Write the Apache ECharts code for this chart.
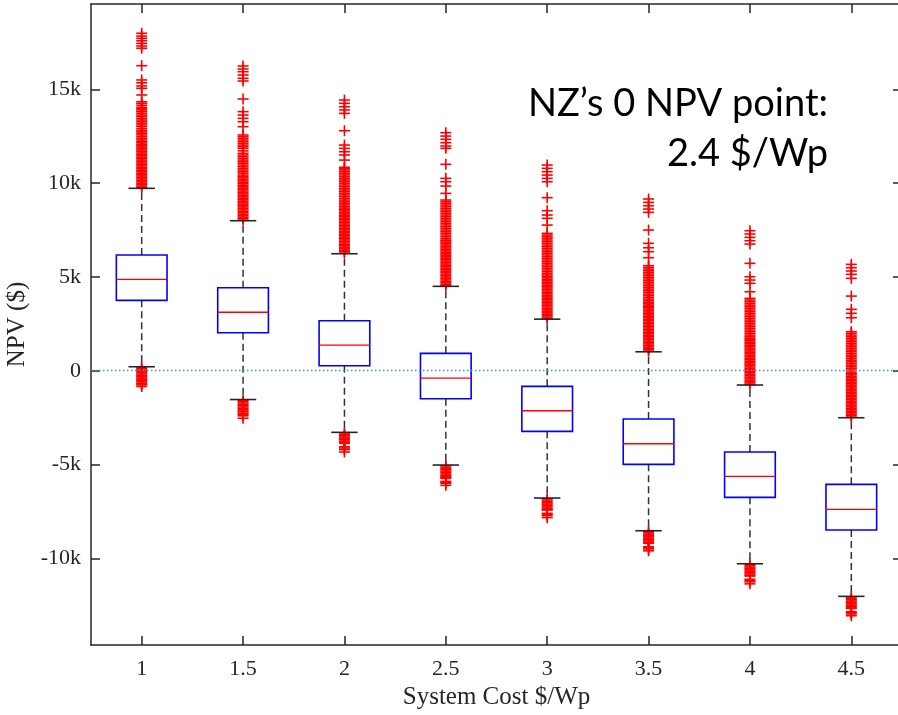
<!DOCTYPE html>
<html><head><meta charset="utf-8">
<script src="https://cdn.jsdelivr.net/npm/echarts@6/dist/echarts.min.js"></script>
<style>html,body{margin:0;padding:0;background:#fff}#chart{width:898px;height:715px}</style>
</head><body><div id="chart"></div>
<script>
// System cost categories ($/Wp)
const categories = ['1', '1.5', '2', '2.5', '3', '3.5', '4', '4.5'];
// Box statistics (NPV, $)
const whiskerLow  = [213, -1535, -3284, -5027, -6786, -8530, -10289, -12027];
const q1          = [3753, 2026, 267, -1493, -3231, -4990, -6749, -8492];
const median      = [4873, 3119, 1370, -389, -2132, -3892, -5630, -7389];
const q3          = [6168, 4425, 2666, 928, -832, -2575, -4334, -6056];
const whiskerHigh = [9724, 7997, 6237, 4499, 2750, 1010, -762, -2505];
// Y tick values and labels
const yTickValues = [-10000, -5000, 0, 5000, 10000, 15000];
const yTickLabels = ['-10k', '-5k', '0', '5k', '10k', '15k'];

// Outliers per category (NPV, $)
const outliers1 = [9760, 9840, 9915, 9990, 10070, 10150, 10225, 10300, 10380, 10455, 10530, 10610, 10690, 10765, 10840, 10920, 10995, 11070, 11150, 11230, 11305, 11380, 11460, 11535, 11610, 11690, 11765, 11840, 11920, 11995, 12070, 12150, 12210,
  12300, 12390, 12480, 12570, 12660, 12730, 12800, 12900, 13010, 13100, 13190, 13280, 13365, 13450, 13545, 13630, 13720, 13810, 13900, 13970, 14040, 14150, 14255, 14340,
  14700, 15055, 15180, 15350, 15500, 16260,
  17190, 17310, 17450, 17590, 17720, 17840, 17990,
  180, 110, 40, -30, -100, -175, -245, -320, -390, -460, -530, -590, -670, -710, -750, -840];
const outliers2 = [8030, 8110, 8185, 8260, 8340, 8420, 8495, 8570, 8650, 8730, 8805, 8880, 8960, 9040, 9115, 9190, 9270, 9350, 9425, 9500, 9580, 9660, 9735, 9810, 9890, 9970, 10045, 10120, 10200, 10280, 10355, 10430,
  10525, 10610, 10700, 10790, 10875, 10965, 11055, 11140, 11230, 11320, 11410, 11500, 11590, 11720, 11855, 11940, 12030, 12120, 12210, 12300, 12390, 12480, 12565,
  13010, 13275, 13455, 13630, 13810, 14485,
  15445, 15590, 15765, 15940, 16085, 16245,
  -1570, -1640, -1715, -1790, -1860, -1930, -2005, -2080, -2150, -2190, -2270, -2330, -2400, -2530];
const outliers3 = [6270, 6350, 6425, 6500, 6580, 6660, 6735, 6810, 6890, 6970, 7045, 7120, 7200, 7280, 7355, 7430, 7510, 7590, 7665, 7740, 7820, 7900, 7975, 8050, 8130, 8210, 8285, 8360, 8440, 8520, 8595, 8670, 8745,
  8835, 8925, 9010, 9100, 9190, 9280, 9370, 9455, 9545, 9635, 9720, 9810, 9900, 9990, 10080, 10165, 10255, 10345, 10435, 10525, 10610, 10700, 10780, 10844,
  11230, 11500, 11675, 11855, 12030, 12795,
  13720, 13900, 14075, 14255, 14430,
  -3310, -3385, -3460, -3530, -3600, -3675, -3750, -3820, -3870, -4050, -4120, -4200, -4330];
const outliers4 = [4530, 4610, 4685, 4760, 4840, 4920, 4995, 5070, 5150, 5230, 5305, 5380, 5460, 5540, 5615, 5690, 5770, 5850, 5925, 6000, 6080, 6160, 6235, 6310, 6390, 6470, 6545, 6620, 6700, 6780, 6855, 6930, 6967,
  7055, 7145, 7235, 7325, 7410, 7500, 7590, 7680, 7770, 7860, 7950, 8035, 8120, 8210, 8300, 8390, 8480, 8565, 8655, 8745, 8835, 8925, 9010, 9100,
  9455, 9845, 10075, 10255, 11005,
  11855, 11980, 12155, 12335, 12510, 12690,
  -5060, -5135, -5210, -5280, -5350, -5425, -5500, -5570, -5640, -5700, -5735, -5900, -5950, -6000, -6110];
const outliers5 = [2780, 2860, 2935, 3010, 3090, 3170, 3245, 3320, 3400, 3480, 3555, 3630, 3710, 3790, 3865, 3940, 4020, 4100, 4175, 4250, 4330, 4410, 4485, 4560, 4640, 4720, 4795, 4870, 4950, 5030, 5105, 5190,
  5280, 5370, 5460, 5545, 5635, 5725, 5810, 5900, 5990, 6080, 6170, 6260, 6345, 6435, 6520, 6610, 6700, 6790, 6880, 6970, 7060, 7145, 7235, 7325,
  7765, 8125, 8300, 8530, 9225,
  10075, 10255, 10430, 10610, 10790, 10965,
  -6820, -6890, -6965, -7040, -7110, -7180, -7255, -7330, -7400, -7425, -7600, -7660, -7720, -7830];
const outliers6 = [1040, 1120, 1195, 1270, 1350, 1430, 1505, 1580, 1660, 1740, 1815, 1890, 1970, 2050, 2125, 2200, 2280, 2360, 2435, 2510, 2590, 2670, 2745, 2820, 2900, 2980, 3055, 3130, 3210, 3290, 3365, 3440, 3500,
  3575, 3645, 3730, 3820, 3910, 4000, 4090, 4180, 4265, 4355, 4440, 4530, 4620, 4710, 4800, 4890, 4975, 5065, 5155, 5245, 5330, 5420, 5510, 5600,
  6025, 6345, 6555, 6790, 7500,
  8445, 8620, 8795, 8975, 9155,
  -8560, -8635, -8710, -8780, -8850, -8925, -9000, -9070, -9140, -9200, -9385, -9440, -9500, -9600];
const outliers7 = [-730, -650, -575, -500, -420, -340, -265, -190, -110, -30, 45, 120, 200, 280, 355, 430, 510, 590, 665, 740, 820, 900, 975, 1050, 1130, 1210, 1285, 1360, 1440, 1520, 1595, 1670, 1725,
  1810, 1900, 1990, 2080, 2170, 2260, 2345, 2435, 2520, 2610, 2700, 2790, 2880, 2970, 3055, 3145, 3235, 3325, 3410, 3500, 3590, 3680, 3770, 3860,
  4210, 4660, 4835, 5010, 5725,
  6755, 6930, 7110, 7290, 7465,
  -10320, -10395, -10470, -10540, -10610, -10685, -10760, -10830, -10900, -10945, -11120, -11180, -11250, -11360];
const outliers8 = [-2470, -2390, -2315, -2240, -2160, -2080, -2005, -1930, -1850, -1770, -1695, -1620, -1540, -1460, -1385, -1310, -1230, -1150, -1075, -1000, -920, -840, -765, -690, -610, -530, -455, -380, -300, -220, -145, -70, 37,
  130, 215, 300, 390, 480, 565, 655, 745, 835, 920, 1010, 1100, 1190, 1280, 1370, 1455, 1545, 1635, 1725, 1810, 1900, 1990, 2080,
  2825, 3060, 3275, 3980,
  4925, 5140, 5315, 5490, 5670,
  -12060, -12135, -12210, -12280, -12350, -12425, -12500, -12570, -12640, -12668, -12845, -12900, -12960, -13060];
const outlierLists = [outliers1, outliers2, outliers3, outliers4, outliers5, outliers6, outliers7, outliers8];

const boxData = categories.map((c, i) => [i, whiskerLow[i], q1[i], median[i], q3[i], whiskerHigh[i]]);
const outlierData = [];
outlierLists.forEach((arr, i) => arr.forEach(v => outlierData.push([i, v])));

const AX = '#262626';
const serif = 'Liberation Serif';

function renderBox(params, api) {
  const i = api.value(0);
  const band = api.size([1, 0])[0];
  const hw = band * 0.25, cw = band * 0.13;
  const pLow = api.coord([i, api.value(1)]);
  const pQ1 = api.coord([i, api.value(2)]);
  const pMed = api.coord([i, api.value(3)]);
  const pQ3 = api.coord([i, api.value(4)]);
  const pHigh = api.coord([i, api.value(5)]);
  const x = pMed[0];
  const dash = { stroke: '#333333', lineWidth: 1.5, lineDash: [7, 4] };
  const cap = { stroke: AX, lineWidth: 1.6 };
  return { type: 'group', children: [
    { type: 'line', shape: { x1: x, y1: pQ3[1], x2: x, y2: pHigh[1] }, style: dash },
    { type: 'line', shape: { x1: x, y1: pQ1[1], x2: x, y2: pLow[1] }, style: dash },
    { type: 'line', shape: { x1: x - cw, y1: pHigh[1], x2: x + cw, y2: pHigh[1] }, style: cap },
    { type: 'line', shape: { x1: x - cw, y1: pLow[1], x2: x + cw, y2: pLow[1] }, style: cap },
    { type: 'rect', shape: { x: x - hw, y: pQ3[1], width: 2 * hw, height: pQ1[1] - pQ3[1] }, style: { fill: 'none', stroke: '#0000ff', lineWidth: 1.6 } },
    { type: 'line', shape: { x1: x - hw, y1: pMed[1], x2: x + hw, y2: pMed[1] }, style: { stroke: '#ff0000', lineWidth: 1.3 } }
  ]};
}

function renderOutlier(params, api) {
  const p = api.coord([api.value(0), api.value(1)]);
  const s = 5.5;
  const st = { stroke: '#ff0000', lineWidth: 1.6 };
  return { type: 'group', children: [
    { type: 'line', shape: { x1: p[0] - s, y1: p[1], x2: p[0] + s, y2: p[1] }, style: st },
    { type: 'line', shape: { x1: p[0], y1: p[1] - s, x2: p[0], y2: p[1] + s }, style: st }
  ]};
}

const chart = echarts.init(document.getElementById('chart'), null, { renderer: 'canvas' });
const axisLine = { show: true, onZero: false, lineStyle: { color: AX, width: 1.5 } };
const axisTick = { show: true, inside: true, length: 9, lineStyle: { color: AX, width: 1.5 } };

chart.setOption({
  animation: false,
  backgroundColor: '#ffffff',
  grid: { left: 91, top: 4, width: 811, height: 641, containLabel: false, outerBoundsMode: 'none' },
  xAxis: [
    { type: 'category', data: categories, position: 'bottom', boundaryGap: true,
      axisLine: axisLine, axisTick: Object.assign({ alignWithLabel: true }, axisTick),
      axisLabel: { color: AX, fontFamily: serif, fontSize: 22, margin: 13 },
      splitLine: { show: false },
      name: 'System Cost $/Wp', nameLocation: 'middle', nameGap: 37,
      nameTextStyle: { color: AX, fontFamily: serif, fontSize: 25 } },
    { type: 'category', data: categories, position: 'top', boundaryGap: true,
      axisLine: axisLine, axisTick: Object.assign({ alignWithLabel: true }, axisTick),
      axisLabel: { show: false }, splitLine: { show: false } }
  ],
  yAxis: [
    { type: 'value', min: -14620, max: 19550, position: 'left',
      axisLine: axisLine, axisTick: Object.assign({ customValues: yTickValues }, axisTick),
      axisLabel: { customValues: yTickValues, color: AX, fontFamily: serif, fontSize: 22, margin: 10,
        formatter: v => yTickLabels[yTickValues.indexOf(v)] },
      splitLine: { show: false },
      name: 'NPV ($)', nameLocation: 'middle', nameGap: 58, nameRotate: 90,
      nameTextStyle: { color: AX, fontFamily: serif, fontSize: 25 } },
    { type: 'value', min: -14620, max: 19550, position: 'right',
      axisLine: axisLine, axisTick: Object.assign({ customValues: yTickValues }, axisTick),
      axisLabel: { show: false }, splitLine: { show: false } }
  ],
  series: [
    { type: 'custom', name: 'outliers', renderItem: renderOutlier, data: outlierData,
      encode: { x: 0, y: 1 }, silent: true,
      markLine: { silent: true, symbol: 'none', label: { show: false },
        lineStyle: { color: '#3f93d0', type: [1.5, 2.5], width: 1.3 },
        data: [{ yAxis: 0 }] } },
    { type: 'custom', name: 'boxes', renderItem: renderBox, data: boxData,
      encode: { x: 0, y: [1, 2, 3, 4, 5] }, silent: true }
  ],
  graphic: [
    { type: 'text', x: 828, y: 104, style: { text: 'NZ’s 0 NPV point:', fontFamily: 'Lato', fontSize: 38, fill: '#000', align: 'right', verticalAlign: 'middle', textAlign: 'right', textVerticalAlign: 'middle' } },
    { type: 'text', x: 828, y: 154, style: { text: '2.4 $/Wp', fontFamily: 'Lato', fontSize: 38, fill: '#000', align: 'right', verticalAlign: 'middle', textAlign: 'right', textVerticalAlign: 'middle' } }
  ]
});
</script>
</body></html>
